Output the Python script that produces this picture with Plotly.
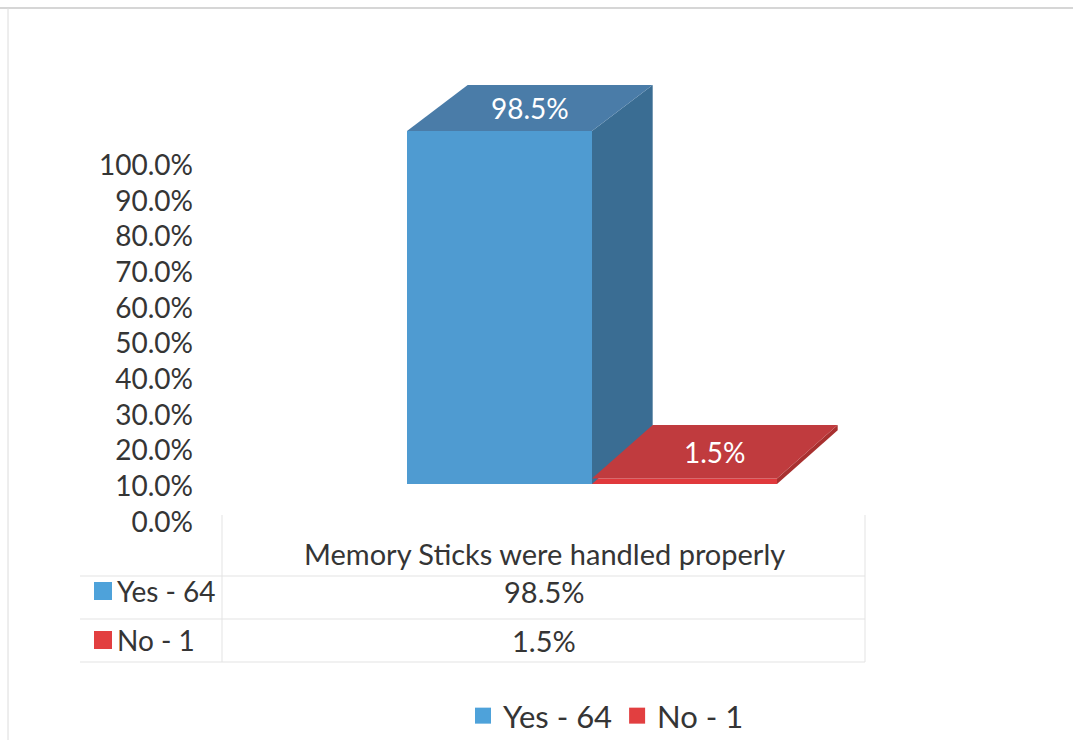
import plotly.graph_objects as go

# ---- data ----
categories = ["Memory Sticks were handled properly"]
series_names = ["Yes - 64", "No - 1"]
series_values = [98.5, 1.5]          # percent
tick_values = [0, 10, 20, 30, 40, 50, 60, 70, 80, 90, 100]

# ---- style ----
W, H = 1073, 740
FONT = "Lato"
TEXT_COLOR = "#353535"
FRONT = ["#4f9bd1", "#e0393c"]
TOP = ["#4a7ca8", "#c03b3e"]
SIDE = ["#3a6d93", "#a8302f"]
LEGEND_COLOR = ["#4ea2da", "#e23f40"]
GRID = "#e3e3e3"

BARGAP = 0.5
DEPTH_X = 0.082          # depth offset along x (category units)
DEPTH_Y = 15.0           # depth offset along y at the floor (percent units)
PERSPECTIVE = 0.15       # depth shrinks slightly with height


def px(x):
    return x / W


def py(y):
    return 1 - y / H


n = len(series_values)
bar_w = (1 - BARGAP) / n
centers = [-(1 - BARGAP) / 2 + bar_w * (i + 0.5) for i in range(n)]


def depth_y(v):
    return DEPTH_Y * (1 - PERSPECTIVE * v / 100)


fig = go.Figure()

# front faces
for i, (name, v) in enumerate(zip(series_names, series_values)):
    fig.add_trace(go.Bar(
        x=[0], y=[v], name=name,
        marker=dict(color=FRONT[i], line=dict(width=0)),
        showlegend=False, hoverinfo="skip",
    ))

# side and top faces, computed from each bar's value
for i, v in enumerate(series_values):
    xl = centers[i] - bar_w / 2
    xr = centers[i] + bar_w / 2
    d0, dv = depth_y(0), depth_y(v)
    fig.add_trace(go.Scatter(
        x=[xr, xr, xr + DEPTH_X, xr + DEPTH_X, xr],
        y=[0, v, v + dv, d0, 0],
        fill="toself", fillcolor=SIDE[i], mode="lines",
        line=dict(width=0, color=SIDE[i]),
        showlegend=False, hoverinfo="skip",
    ))
    fig.add_trace(go.Scatter(
        x=[xl, xr, xr + DEPTH_X, xl + DEPTH_X, xl],
        y=[v, v, v + dv, v + dv, v],
        fill="toself", fillcolor=TOP[i], mode="lines",
        line=dict(width=0, color=TOP[i]),
        showlegend=False, hoverinfo="skip",
    ))
    fig.add_annotation(
        x=centers[i] + DEPTH_X / 2, y=v + dv / 2, xref="x", yref="y",
        xanchor="center", yanchor="middle",
        text=f"{v:.1f}%", showarrow=False,
        font=dict(family=FONT, size=28, color="white"),
    )

# legend entries (square swatches)
for i, name in enumerate(series_names):
    fig.add_trace(go.Scatter(
        x=[None], y=[None], name=name, mode="markers",
        marker=dict(color=LEGEND_COLOR[i], symbol="square", size=17),
        showlegend=True,
    ))

# carrier for the value axis labels
fig.add_trace(go.Scatter(
    x=[0], y=[0], xaxis="x", yaxis="y2", mode="markers",
    marker=dict(opacity=0), showlegend=False, hoverinfo="skip",
))

# data table under the chart
fig.add_annotation(
    x=px(544), y=py(553), xref="paper", yref="paper",
    xanchor="center", yanchor="middle",
    text=categories[0], showarrow=False,
    font=dict(family=FONT, size=29, color=TEXT_COLOR),
)
row_y = [591, 640]
shapes = []
for i, (name, v) in enumerate(zip(series_names, series_values)):
    shapes.append(dict(type="rect", xref="paper", yref="paper",
                       x0=px(94), x1=px(112),
                       y0=py(row_y[i] + 9), y1=py(row_y[i] - 9),
                       fillcolor=LEGEND_COLOR[i], line=dict(width=0)))
    fig.add_annotation(
        x=px(115), y=py(row_y[i]), xref="paper", yref="paper",
        xanchor="left", yanchor="middle", text=name, showarrow=False,
        font=dict(family=FONT, size=28, color=TEXT_COLOR),
    )
    fig.add_annotation(
        x=px(544), y=py(row_y[i]), xref="paper", yref="paper",
        xanchor="center", yanchor="middle",
        text=f"{v:.1f}%", showarrow=False,
        font=dict(family=FONT, size=29, color=TEXT_COLOR),
    )

for yy in [576, 619, 662]:
    shapes.append(dict(type="line", xref="paper", yref="paper",
                       x0=px(80), x1=px(865), y0=py(yy), y1=py(yy),
                       line=dict(color=GRID, width=1)))
for xx in [222, 865]:
    shapes.append(dict(type="line", xref="paper", yref="paper",
                       x0=px(xx), x1=px(xx), y0=py(515), y1=py(662),
                       line=dict(color=GRID, width=1)))
# chart frame
shapes.append(dict(type="line", xref="paper", yref="paper",
                   x0=0, x1=1, y0=py(8), y1=py(8),
                   line=dict(color="#c9c9c9", width=1.5)))
shapes.append(dict(type="line", xref="paper", yref="paper",
                   x0=px(8), x1=px(8), y0=py(8), y1=0,
                   line=dict(color="#dcdcdc", width=1)))

fig.update_layout(
    width=W, height=H,
    margin=dict(l=0, r=0, t=0, b=0, autoexpand=False),
    paper_bgcolor="white", plot_bgcolor="rgba(0,0,0,0)",
    barmode="group", bargap=BARGAP,
    shapes=shapes,
    xaxis=dict(domain=[px(222), px(962)], range=[-0.5, 0.5],
               visible=False, fixedrange=True),
    yaxis=dict(domain=[py(484), py(71.8)], range=[0, 115],
               visible=False, fixedrange=True),
    yaxis2=dict(domain=[py(522), py(165)], range=[0, 100],
                anchor="free", position=px(193), side="left",
                tickvals=tick_values,
                ticktext=[f"{t:.1f}%" for t in tick_values],
                showgrid=False, zeroline=False, showline=False, ticks="",
                tickfont=dict(family=FONT, size=28, color=TEXT_COLOR),
                fixedrange=True),
    legend=dict(orientation="h", x=px(606), xanchor="center",
                y=py(716), yanchor="middle",
                font=dict(family=FONT, size=31, color=TEXT_COLOR),
                itemwidth=30, traceorder="normal",
                bgcolor="rgba(0,0,0,0)"),
    showlegend=True,
)

fig.write_html("out.html")
